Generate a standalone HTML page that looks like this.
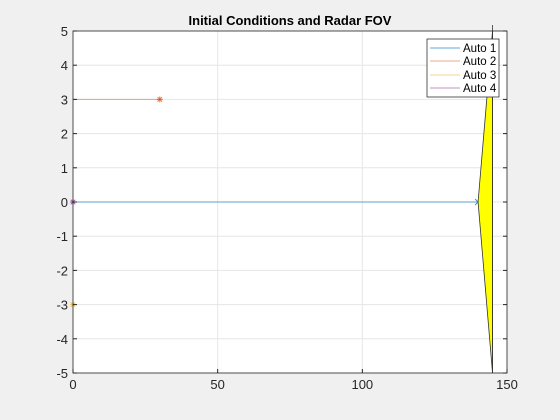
<!DOCTYPE html>
<html><head><meta charset="utf-8"><style>
body{margin:0;background:#f0f0f0;}
svg{display:block;font-family:"Liberation Sans",sans-serif;}
</style></head><body>
<svg id="chart" width="560" height="420">
<rect x="0" y="0" width="560" height="420" fill="#f0f0f0"/>
<rect x="73" y="31" width="434" height="342" fill="#fff"/>
<g id="grid"></g>
<g id="marks"></g>
<g id="axes"></g>
<text x="290" y="25" text-anchor="middle" font-size="13" font-weight="bold" fill="#000">Initial Conditions and Radar FOV</text>
<g>
<rect x="427" y="39" width="72" height="58" fill="#fff" stroke="#333" stroke-width="0.8"/>
<line x1="430" y1="48" x2="460" y2="48" stroke="#0072bd" opacity="0.6"/>
<text x="463" y="52" font-size="11.5">Auto 1</text>
<line x1="430" y1="61" x2="460" y2="61" stroke="#d95319" opacity="0.5"/>
<text x="463" y="65" font-size="11.5">Auto 2</text>
<line x1="430" y1="75" x2="460" y2="75" stroke="#edb120" opacity="0.5"/>
<text x="463" y="79" font-size="11.5">Auto 3</text>
<line x1="430" y1="88" x2="460" y2="88" stroke="#7e2f8e" opacity="0.5"/>
<text x="463" y="92" font-size="11.5">Auto 4</text>
</g>
</svg>
<script>
const xTicks=[0,50,100,150];
const yTicks=[-5,-4,-3,-2,-1,0,1,2,3,4,5];
const seriesNames=["Auto 1","Auto 2","Auto 3","Auto 4"];
const seriesColors=["#0072bd","#d95319","#edb120","#7e2f8e"];
const startX=[0,0,0,0];
const endX=[140,30,0,0];
const laneY=[0,3,-3,0];
const fovX=[140,145,145];
const fovY=[0,5,-5];
const L=73,R=507,T=31,B=373;
const sx=v=>L+(v-0)/(150-0)*(R-L);
const sy=v=>B-(v+5)/10*(B-T);
const NS="http://www.w3.org/2000/svg";
function mk(parent,tag,attrs){const e=document.createElementNS(NS,tag);for(const k in attrs)e.setAttribute(k,attrs[k]);(typeof parent==='string'?document.getElementById(parent):parent).appendChild(e);return e;}
xTicks.forEach(t=>{
 const g=mk('grid','line',{x1:sx(t),x2:sx(t),y1:T,y2:B,stroke:'#e6e6e6'});
 
 
 const tk=mk('axes','line',{x1:sx(t),x2:sx(t),y1:B,y2:B-4,stroke:'#262626'});
 
 
 const tx=mk('axes','text',{x:sx(t),y:B+16,'text-anchor':'middle','font-size':'13',fill:'#262626'});
 tx.textContent=t;
 
 
});
yTicks.forEach(t=>{
 const g=mk('grid','line',{x1:L,x2:R,y1:sy(t),y2:sy(t),stroke:'#e6e6e6'});
 
 
 const tk=mk('axes','line',{x1:L,x2:L+4,y1:sy(t),y2:sy(t),stroke:'#262626'});
 
 
 const tk2=mk('axes','line',{x1:R,x2:R-4,y1:sy(t),y2:sy(t),stroke:'#262626'});
 
 
 const tx=mk('axes','text',{x:L-5,y:sy(t)+5,'text-anchor':'end','font-size':'13',fill:'#262626'});
 tx.textContent=t;
 
 
});
const pts=fovX.map((x,i)=>sx(x)+','+sy(fovY[i])).join(' ');
const fov=mk('marks','polygon',{points:pts,fill:'#ffff00',stroke:'#333','stroke-width':'0.8'});


const fovEdge=mk('marks','line',{x1:sx(fovX[1]),x2:sx(fovX[1]),y1:T-6,y2:sy(fovY[2]),stroke:'#333','stroke-width':'0.8'});


seriesNames.forEach((n,i)=>{
 const l=mk('marks','line',{x1:sx(startX[i]),x2:sx(endX[i]),y1:sy(laneY[i]),y2:sy(laneY[i]),stroke:seriesColors[i],'stroke-opacity':i==0?0.6:0.45,'stroke-width':1});
 
 
 const cx=sx(endX[i]),cy=sy(laneY[i]),r=3;
 const m=mk('marks','g',{stroke:seriesColors[i],'stroke-opacity':0.75,'stroke-width':1});
 
 
 if(i===0){
  mk(m,'path',{d:`M${cx-3},${cy-3}L${cx},${cy}L${cx-3},${cy+3}`,fill:'none'});
 } else {
  mk(m,'line',{x1:cx-r,x2:cx+r,y1:cy,y2:cy});
  mk(m,'line',{x1:cx,x2:cx,y1:cy-r,y2:cy+r});
  mk(m,'line',{x1:cx-r*0.75,x2:cx+r*0.75,y1:cy-r*0.75,y2:cy+r*0.75});
  mk(m,'line',{x1:cx-r*0.75,x2:cx+r*0.75,y1:cy+r*0.75,y2:cy-r*0.75});
 }
});
const box=mk('axes','rect',{x:L,y:T,width:R-L,height:B-T,fill:'none',stroke:'#262626','stroke-width':0.8});


</script>
</body></html>
